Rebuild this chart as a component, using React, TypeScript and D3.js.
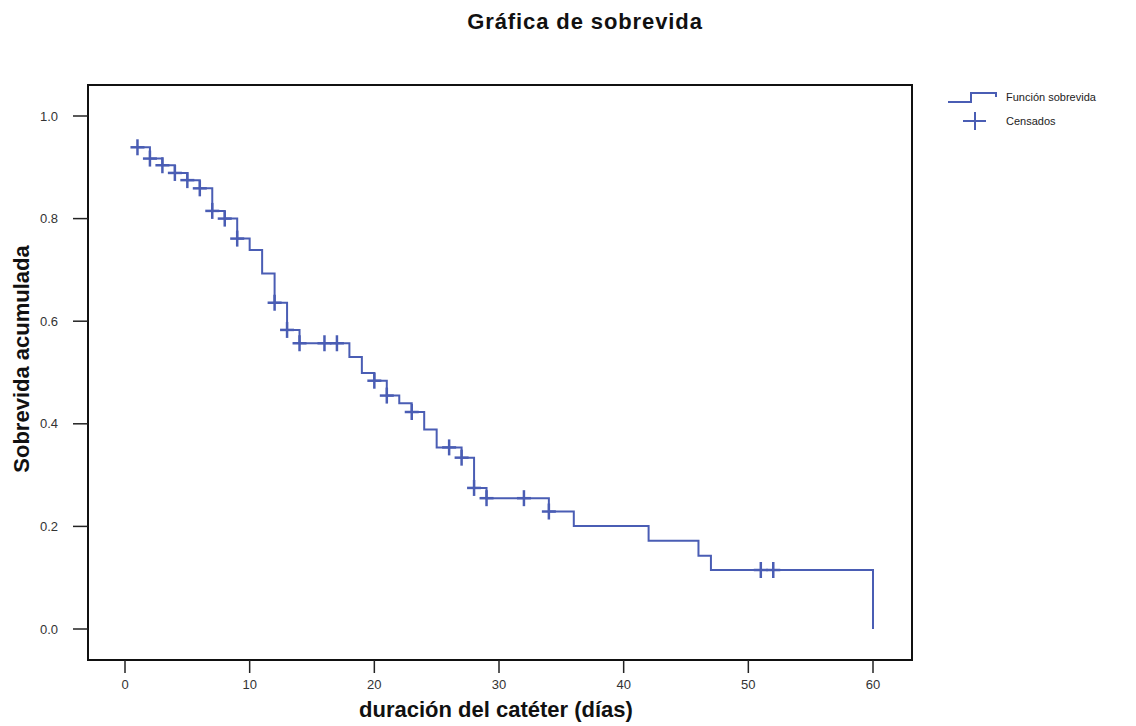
import React from "react";
import { scaleLinear, line, curveStepAfter } from "d3";

// step function: time (days) and survival after the event at that time
const eventTimes = [1, 2, 3, 4, 5, 6, 7, 8, 9, 10, 11, 12, 13, 14, 18, 19, 20, 21, 22, 23, 24, 25, 27, 28, 29, 34, 36, 42, 46, 47, 60];
const survival = [0.939, 0.917, 0.904, 0.889, 0.875, 0.859, 0.815, 0.8, 0.761, 0.739, 0.693, 0.636, 0.583, 0.557, 0.53, 0.499, 0.484, 0.455, 0.44, 0.423, 0.389, 0.354, 0.334, 0.275, 0.255, 0.229, 0.201, 0.172, 0.143, 0.115, 0.0];

// censored observations
const censorTimes = [1, 2, 3, 4, 5, 6, 7, 8, 9, 12, 13, 14, 16, 17, 20, 21, 23, 26, 27, 28, 29, 32, 34, 51, 52];
const censorSurv = [0.939, 0.917, 0.904, 0.889, 0.875, 0.859, 0.815, 0.8, 0.761, 0.636, 0.583, 0.557, 0.557, 0.557, 0.484, 0.455, 0.423, 0.354, 0.334, 0.275, 0.255, 0.255, 0.229, 0.115, 0.115];

const xTicks = [0, 10, 20, 30, 40, 50, 60];
const yTicks = [0.0, 0.2, 0.4, 0.6, 0.8, 1.0];

const title = "Gráfica de sobrevida";
const xLabel = "duración del catéter (días)";
const yLabel = "Sobrevida acumulada";
const legendLine = "Función sobrevida";
const legendCensor = "Censados";

const blue = "#4a5db4";

export default function App() {
  const width = 1136;
  const height = 726;
  const frame = { left: 88, top: 85, right: 912, bottom: 660 };

  const xScale = scaleLinear().domain([0, 60]).range([125, 873]);
  const yScale = scaleLinear().domain([0, 1]).range([629, 116]);

  const data = eventTimes.map((t, i) => ({ t, s: survival[i] }));
  const stepLine = line<{ t: number; s: number }>()
    .x(d => xScale(d.t))
    .y(d => yScale(d.s))
    .curve(curveStepAfter);

  // add the final vertical drop at the last time
  const last = data[data.length - 1];
  const pathD = stepLine(data.slice(0, -1).concat([{ t: last.t, s: data[data.length - 2].s }, last])) || "";

  const labelFont = "'Liberation Sans Narrow', 'Arial Narrow', 'Liberation Sans', Arial, sans-serif";
  const boldFont = "'Liberation Sans', Arial, sans-serif";

  return (
    <svg width={width} height={height} style={{ position: "absolute", left: 0, top: 0, background: "#fff" }}>
      <text x={585} y={29} textAnchor="middle" fontFamily={boldFont} fontWeight="bold" fontSize={22} letterSpacing={0.9} fill="#111">
        {title}
      </text>

      <rect x={frame.left} y={frame.top} width={frame.right - frame.left} height={frame.bottom - frame.top}
            fill="none" stroke="#111" strokeWidth={2} />

      {/* y axis */}
      {yTicks.map(v => (
        <g key={v} transform={`translate(0, ${yScale(v)})`}>
          <line x1={frame.left - 15} x2={frame.left} stroke="#222" strokeWidth={1.5} />
          <text x={58} dy="0.35em" textAnchor="end" fontFamily={labelFont} fontSize={13} fill="#333">
            {v.toFixed(1)}
          </text>
        </g>
      ))}
      <text transform={`translate(29, ${359}) rotate(-90)`} textAnchor="middle" fontFamily={boldFont}
            fontWeight="bold" fontSize={22} fill="#111">
        {yLabel}
      </text>

      {/* x axis */}
      {xTicks.map(v => (
        <g key={v} transform={`translate(${xScale(v)}, ${frame.bottom})`}>
          <line y1={0} y2={13} stroke="#222" strokeWidth={1.5} />
          <text y={29} textAnchor="middle" fontFamily={labelFont} fontSize={13} fill="#333">
            {v}
          </text>
        </g>
      ))}
      <text x={496} y={717} textAnchor="middle" fontFamily={boldFont} fontWeight="bold" fontSize={22} fill="#111">
        {xLabel}
      </text>

      {/* survival curve */}
      <path d={pathD} fill="none" stroke={blue} strokeWidth={2} />
      {censorTimes.map((t, i) => (
        <g key={i} transform={`translate(${xScale(t)}, ${yScale(censorSurv[i])})`}>
          <line x1={-7} x2={7} stroke={blue} strokeWidth={2.5} />
          <line y1={-8} y2={8} stroke={blue} strokeWidth={2.5} />
        </g>
      ))}

      {/* legend */}
      <path d="M948,102 H971 V93 H996 V97" fill="none" stroke={blue} strokeWidth={2} />
      <text x={1006} y={101} fontFamily={labelFont} fontSize={11} fill="#222">{legendLine}</text>
      <line x1={963} x2={986} y1={121} y2={121} stroke={blue} strokeWidth={2} />
      <line x1={975} x2={975} y1={112} y2={130} stroke={blue} strokeWidth={2} />
      <text x={1006} y={125} fontFamily={labelFont} fontSize={11} fill="#222">{legendCensor}</text>
    </svg>
  );
}
